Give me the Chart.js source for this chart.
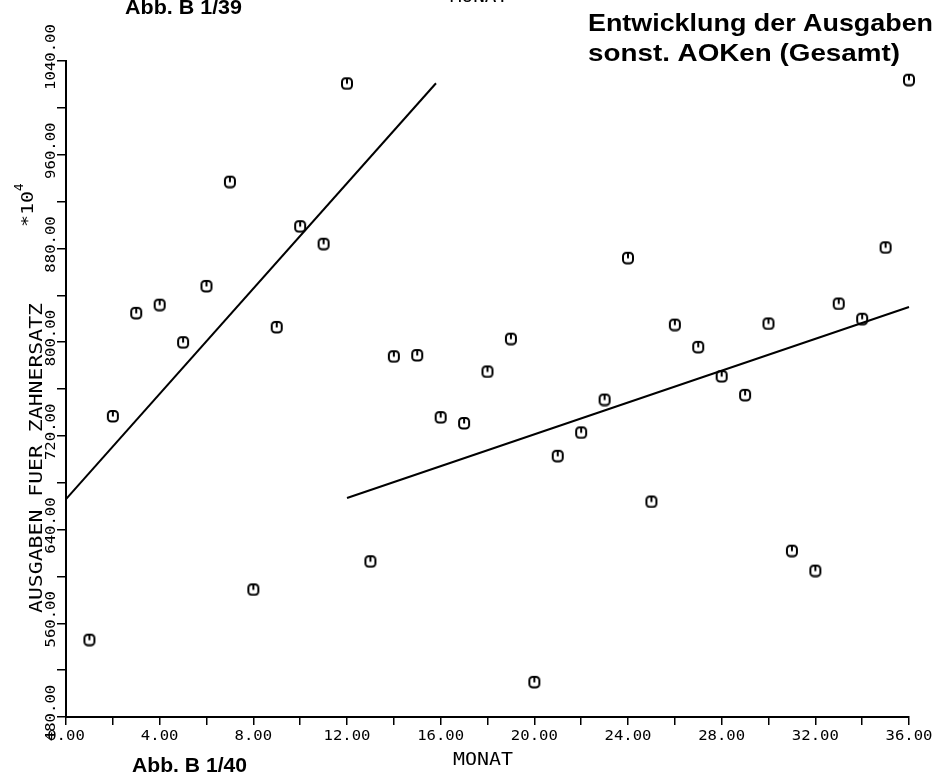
<!DOCTYPE html>
<html>
<head>
<meta charset="utf-8">
<title>Entwicklung der Ausgaben sonst. AOKen (Gesamt)</title>
<script src="https://cdn.jsdelivr.net/npm/chart.js@4/dist/chart.umd.min.js"></script>
<style>
  html, body { margin: 0; padding: 0; background: #fff; }
  canvas { display: block; }
</style>
</head>
<body>
<canvas id="chart" width="940" height="778"></canvas>
<script>
// Monthly spending on dentures (units of 10^4)
const months = [1, 2, 3, 4, 5, 6, 7, 8, 9, 10, 11, 12,
                13, 14, 15, 16, 17, 18, 19, 20, 21, 22, 23, 24,
                25, 26, 27, 28, 29, 30, 31, 32, 33, 34, 35, 36];
const spending = [546, 737, 825, 832, 800, 848, 937, 589, 813, 899, 884, 1021,
                  613, 788, 789, 736, 731, 775, 803, 510, 703, 723, 751, 872,
                  664, 815, 796, 771, 755, 816, 622, 605, 833, 820, 881, 1024];

// Trend lines for the two periods (start / end)
const trendEarlyX = [0, 15.8];
const trendEarlyY = [666, 1021];
const trendLateX = [12, 36];
const trendLateY = [667, 830];

// Labelled axis ticks
const xTickValues = [0, 4, 8, 12, 16, 20, 24, 28, 32, 36];
const yTickValues = [480, 560, 640, 720, 800, 880, 960, 1040];

// Plotter-style marker: rounded box with a short stem from the top
function makeMarker() {
  const m = document.createElement('canvas');
  m.width = 14; m.height = 14;
  const g = m.getContext('2d');
  g.strokeStyle = '#000';
  g.lineWidth = 2;
  g.beginPath();
  g.roundRect(2, 2, 10, 10.5, 3.5);
  g.stroke();
  g.beginPath();
  g.moveTo(7, 2);
  g.lineTo(7, 7.5);
  g.stroke();
  return m;
}

const PLOT = '"DejaVu Sans Mono", "Liberation Mono", monospace';
const BOLD = 'bold 21px "Liberation Sans", Arial, sans-serif';

function putText(ctx, text, o) {
  ctx.save();
  ctx.font = o.font;
  ctx.fillStyle = '#000';
  ctx.textAlign = o.align || 'left';
  ctx.textBaseline = o.baseline || 'alphabetic';
  ctx.translate(o.x, o.y);
  if (o.rotate) ctx.rotate(o.rotate);
  if (o.width) {
    const w = ctx.measureText(text).width;
    ctx.scale(o.width / w, 1);
  }
  ctx.fillText(text, 0, 0);
  ctx.restore();
}

const textPlugin = {
  id: 'plotterText',
  afterDraw(chart) {
    const ctx = chart.ctx;
    const xs = chart.scales.x, ys = chart.scales.y;
    const up = -Math.PI / 2;

    // x tick labels
    xTickValues.forEach(v => {
      const s = v.toFixed(2);
      putText(ctx, s, { x: xs.getPixelForValue(v), y: 740, align: 'center',
        font: '14px ' + PLOT, width: 9.4 * s.length });
    });
    // y tick labels (vertical, digits sit on x = 55)
    yTickValues.forEach(v => {
      const s = v.toFixed(2);
      putText(ctx, s, { x: 55, y: ys.getPixelForValue(v) - 4, rotate: up,
        align: 'center', font: '13.5px ' + PLOT, width: 9.4 * s.length });
    });

    // axis titles
    putText(ctx, 'MONAT', { x: 453, y: 765, font: '18px ' + PLOT, width: 60 });
    putText(ctx, 'MONAT', { x: 450, y: 1.5, font: '18px ' + PLOT, width: 58 });
    putText(ctx, 'AUSGABEN FUER ZAHNERSATZ', { x: 41.5, y: 613, rotate: up,
      font: '18.5px ' + PLOT, width: 310 });
    putText(ctx, '*10', { x: 33, y: 227, rotate: up, font: '16px ' + PLOT, width: 36 });
    putText(ctx, '4', { x: 23, y: 191, rotate: up, font: '12.5px ' + PLOT });

    // figure captions and heading
    putText(ctx, 'Abb. B 1/39', { x: 125, y: 14, font: BOLD, width: 117 });
    putText(ctx, 'Abb. B 1/40', { x: 132, y: 772, font: BOLD, width: 115 });
    putText(ctx, 'Entwicklung der Ausgaben', { x: 588, y: 31,
      font: 'bold 24px "Liberation Sans", Arial, sans-serif', width: 345 });
    putText(ctx, 'sonst. AOKen (Gesamt)', { x: 588, y: 61,
      font: 'bold 24px "Liberation Sans", Arial, sans-serif', width: 312 });
  }
};

const marker = makeMarker();
const toPoints = (xs, ys) => xs.map((x, i) => ({ x, y: ys[i] }));

new Chart(document.getElementById('chart').getContext('2d'), {
  type: 'scatter',
  data: {
    datasets: [
      {
        data: toPoints(months, spending),
        pointStyle: marker,
        pointRadius: 7,
        showLine: false,
        clip: false
      },
      {
        data: toPoints(trendEarlyX, trendEarlyY),
        showLine: true, pointRadius: 0,
        borderColor: '#000', borderWidth: 2, clip: false
      },
      {
        data: toPoints(trendLateX, trendLateY),
        showLine: true, pointRadius: 0,
        borderColor: '#000', borderWidth: 2, clip: false
      }
    ]
  },
  options: {
    responsive: false,
    animation: false,
    devicePixelRatio: 1,
    layout: { padding: { left: 0, top: 61, right: 31, bottom: 0 } },
    plugins: { legend: { display: false }, tooltip: { enabled: false } },
    scales: {
      x: {
        type: 'linear', min: 0, max: 36,
        ticks: { stepSize: 2, display: false },
        grid: { drawOnChartArea: false, drawTicks: true, tickLength: 8, color: '#000', lineWidth: 1.5 },
        border: { display: true, color: '#000', width: 2 },
        afterFit(s) { s.height = 61; }
      },
      y: {
        type: 'linear', min: 480, max: 1040,
        ticks: { stepSize: 40, display: false },
        grid: { drawOnChartArea: false, drawTicks: true, tickLength: 9, color: '#000', lineWidth: 1.5 },
        border: { display: true, color: '#000', width: 2 },
        afterFit(s) { s.width = 66; }
      }
    }
  },
  plugins: [textPlugin]
});
</script>
</body>
</html>
